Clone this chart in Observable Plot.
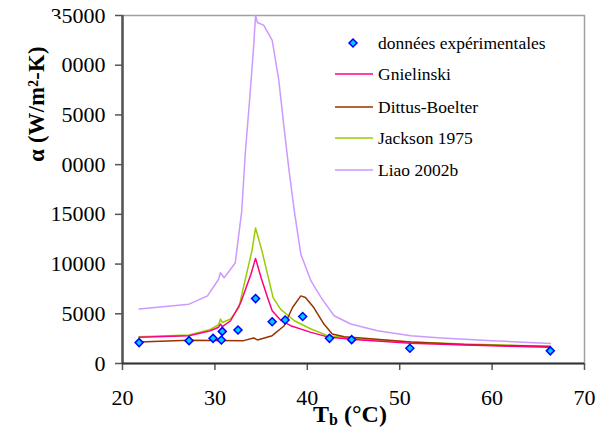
<!DOCTYPE html>
<html>
<head>
<meta charset="utf-8">
<script src="https://cdn.jsdelivr.net/npm/d3@7"></script>
<script src="https://cdn.jsdelivr.net/npm/@observablehq/plot@0.6"></script>
<style>
  body { margin: 0; background: white; }
  #wrap { position: relative; width: 612px; height: 435px; overflow: hidden; font-family: "Liberation Serif", "Times New Roman", Times, serif; }
  #wrap > svg { position: absolute; left: 0; top: 0; }
  #wrap svg text { font-family: "Liberation Serif", "Times New Roman", Times, serif; }
  #ylab { position: absolute; left: 18px; top: 19px; width: 43px; height: 180px; background: white; z-index: 5; }
  #ylab span { position: absolute; left: 19px; top: 85px; transform: translate(-50%, -50%) rotate(-90deg); white-space: nowrap; font-weight: bold; font-size: 22.5px; letter-spacing: 0.3px; }
  #xlab { position: absolute; left: 350px; top: 402px; transform: translateX(-50%); font-weight: bold; font-size: 24px; line-height: 24px; white-space: nowrap; z-index: 5; }
  #xlab sub { font-size: 16px; vertical-align: -3px; }
</style>
</head>
<body>
<div id="wrap"></div>
<script>
// ---- data ----
const xTicks = [20, 30, 40, 50, 60, 70];
const yTicks = [0, 5000, 10000, 15000, 20000, 25000, 30000, 35000];

const expX = [21.8, 27.2, 29.8, 30.7, 30.8, 32.5, 34.4, 36.2, 37.6, 39.5, 42.4, 44.8, 51.1, 66.3];
const expY = [2100, 2300, 2530, 2370, 3230, 3370, 6530, 4200, 4370, 4730, 2530, 2400, 1530, 1270];

const gnielX = [21.8, 27.2, 29.5, 30.4, 30.6, 30.8, 31.7, 32.8, 33.9, 34.4, 35.0, 35.7, 36.2, 37.1, 38.2, 40.4, 42.4, 45.8, 51.2, 57, 66.3];
const gnielY = [2630, 2800, 3300, 3650, 3970, 3700, 4300, 6130, 8970, 10570, 8630, 6630, 5300, 4370, 3800, 3130, 2630, 2370, 2030, 1850, 1630];

const dittusX = [21.8, 27.2, 33.1, 34.2, 34.6, 36.2, 37.5, 38.4, 39.3, 39.8, 40.7, 41.8, 42.7, 44.0, 45.8, 51.2, 57, 66.3];
const dittusY = [2170, 2330, 2300, 2570, 2370, 2800, 3800, 5630, 6800, 6630, 5630, 3970, 2970, 2700, 2570, 2170, 1900, 1700];

const jacksonX = [21.8, 27.2, 29.5, 30.4, 30.6, 30.8, 31.7, 32.6, 33.0, 34.0, 34.4, 34.6, 35.1, 35.7, 36.3, 37.1, 38.6, 40.4, 42.2, 45.8, 51.2, 57, 66.3];
const jacksonY = [2700, 2870, 3430, 3900, 4470, 4130, 4470, 5630, 7300, 11300, 13630, 12970, 11300, 8970, 6630, 5470, 4300, 3470, 2800, 2470, 2150, 1950, 1730];

const liaoX = [21.8, 27.2, 29.2, 30.4, 30.6, 31.0, 32.2, 32.9, 33.3, 33.8, 34.2, 34.4, 34.6, 35.3, 36.2, 36.9, 37.5, 38.0, 38.6, 39.3, 40.4, 41.5, 42.9, 44.7, 47.6, 51.2, 54.5, 60, 66.3];
const liaoY = [5470, 5970, 6800, 8470, 9130, 8630, 10100, 15300, 21300, 27000, 32000, 35000, 34300, 34000, 32500, 28600, 23600, 19600, 15300, 11000, 8300, 6630, 4800, 3970, 3300, 2800, 2570, 2300, 2000];

const seriesNames = ["Gnielinski", "Dittus-Boelter", "Jackson 1975", "Liao 2002b"];
const seriesColors = ["#ff0080", "#993300", "#99cc00", "#cc99ff"];
const expName = "données expérimentales";

// ---- build ----
const FONT = "'Liberation Serif', 'Times New Roman', Times, serif";
const zip = (xs, ys) => xs.map((x, i) => ({x, y: ys[i]}));
const series = [zip(gnielX, gnielY), zip(dittusX, dittusY), zip(jacksonX, jacksonY), zip(liaoX, liaoY)];
const exp = zip(expX, expY);

const drawOrder = [3, 2, 1, 0];
const lineMarks = drawOrder.map(i => Plot.line(series[i], {x: "x", y: "y", stroke: seriesColors[i], strokeWidth: 1.5}));

const chart = Plot.plot({
  width: 612,
  height: 435,
  marginLeft: 122,
  marginRight: 28,
  marginTop: 15,
  marginBottom: 72,
  style: {fontFamily: FONT, fontSize: "22px", background: "white", color: "black"},
  x: {domain: [20, 70]},
  y: {domain: [0, 35000]},
  marks: [
    Plot.frame({stroke: "#a0a0a0", strokeWidth: 1.5}),
    Plot.axisX({ticks: xTicks, tickSize: 7, tickPadding: 19, tickFormat: d => String(d), fontSize: 22, stroke: "#555", strokeWidth: 1.5, fill: "black", label: null}),
    Plot.axisY({ticks: yTicks, tickSize: 7, tickPadding: 10, tickFormat: d => String(d), fontSize: 22, stroke: "#555", strokeWidth: 1.5, fill: "black", label: null}),
    Plot.ruleX([20], {stroke: "#555", strokeWidth: 2.5}),
    Plot.ruleY([0], {stroke: "#333", strokeWidth: 2}),
    ...lineMarks,
    Plot.dot(exp, {x: "x", y: "y", symbol: "diamond2", r: 3.6, fill: "#00ccff", stroke: "#0000ff", strokeWidth: 1.5})
  ]
});

const wrap = document.getElementById("wrap");
wrap.appendChild(chart);

// legend overlay
const leg = d3.select(wrap).append("svg")
  .attr("width", 612).attr("height", 435)
  .style("position", "absolute").style("left", 0).style("top", 0);
const lg = leg.append("g").style("font-family", FONT).attr("font-size", 17.5);
lg.append("path")
  .attr("d", d3.symbol(d3.symbolDiamond2, 3.6 * 3.6 * Math.PI)())
  .attr("transform", "translate(353,43)")
  .attr("fill", "#00ccff").attr("stroke", "#0000ff").attr("stroke-width", 1.5);
lg.append("text").attr("x", 378).attr("y", 43).attr("dy", "0.32em").text(expName);
const rowY = [74, 107, 138, 170];
seriesNames.forEach((name, i) => {
  lg.append("line").attr("x1", 335).attr("x2", 373).attr("y1", rowY[i]).attr("y2", rowY[i])
    .attr("stroke", seriesColors[i]).attr("stroke-width", 1.5);
  lg.append("text").attr("x", 378).attr("y", rowY[i]).attr("dy", "0.32em").text(name);
});

// axis titles
const yl = document.createElement("div");
yl.id = "ylab";
yl.innerHTML = "<span>α (W/m²-K)</span>";
wrap.appendChild(yl);
const xl = document.createElement("div");
xl.id = "xlab";
xl.innerHTML = "T<sub>b</sub> (°C)";
wrap.appendChild(xl);
</script>
</body>
</html>
